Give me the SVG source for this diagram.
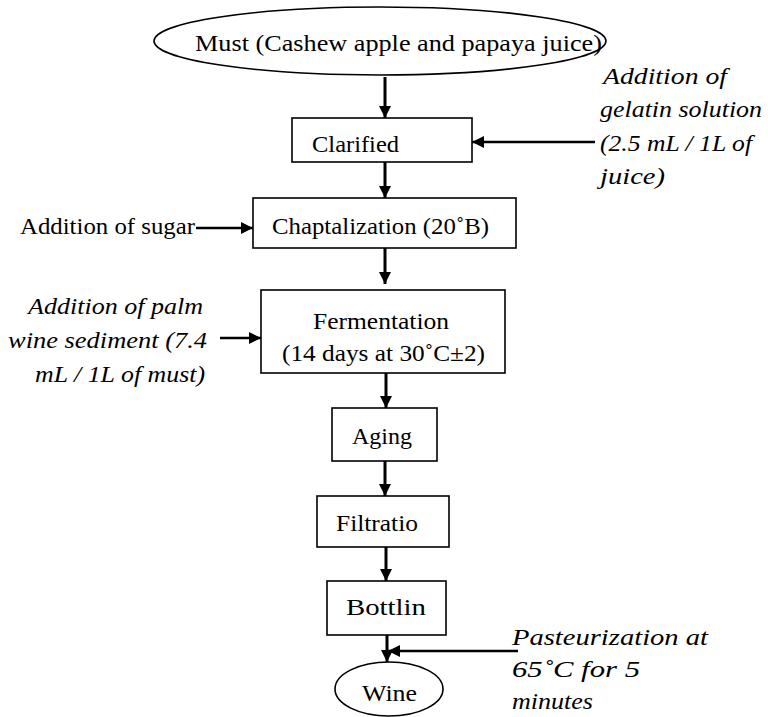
<svg xmlns="http://www.w3.org/2000/svg" width="768" height="717" viewBox="0 0 768 717">
<style>
.box{fill:#fff;stroke:#000;stroke-width:1.6}
.t{font-family:'Liberation Serif','DejaVu Serif','Times New Roman',serif;font-size:23px;fill:#000}
.i{font-style:italic}
.ln{stroke:#000;stroke-width:3;fill:none}
.lh{stroke:#000;stroke-width:2.5;fill:none}
</style>
<defs>
<marker id="ah" viewBox="0 0 12 12" refX="12" refY="6" markerWidth="12" markerHeight="12" markerUnits="userSpaceOnUse" orient="auto">
<path d="M0,0 L12,6 L0,12 Z" fill="#000"/>
</marker>
</defs>
<rect width="768" height="717" fill="#fff"/>
<g id="connectors">
<line class="ln" x1="385" y1="77" x2="385" y2="118" marker-end="url(#ah)"/>
<line class="ln" x1="385" y1="162" x2="385" y2="198" marker-end="url(#ah)"/>
<line class="ln" x1="385" y1="248" x2="385" y2="284" marker-end="url(#ah)"/>
<line class="ln" x1="386" y1="373" x2="386" y2="408" marker-end="url(#ah)"/>
<line class="ln" x1="385" y1="461" x2="385" y2="496" marker-end="url(#ah)"/>
<line class="ln" x1="386" y1="547" x2="386" y2="581" marker-end="url(#ah)"/>
<line class="ln" x1="387" y1="635" x2="387" y2="662" marker-end="url(#ah)"/>
<line class="lh" x1="595" y1="142" x2="472" y2="142" marker-end="url(#ah)"/>
<line class="lh" x1="196" y1="228" x2="253" y2="228" marker-end="url(#ah)"/>
<line class="lh" x1="220" y1="338" x2="261" y2="338" marker-end="url(#ah)"/>
<line class="lh" x1="518" y1="651" x2="388" y2="651" marker-end="url(#ah)"/>
</g>
<g id="must">
<ellipse class="box" cx="380" cy="41" rx="226" ry="34"/>
<text class="t" x="195" y="51" textLength="407" lengthAdjust="spacingAndGlyphs">Must (Cashew apple and papaya juice)</text>
</g>
<g id="clarified">
<rect class="box" x="292" y="118" width="180" height="44"/>
<text class="t" x="312" y="152" textLength="87" lengthAdjust="spacingAndGlyphs">Clarified</text>
</g>
<g id="gelatin">
<text class="t i" x="603" y="84" textLength="124" lengthAdjust="spacingAndGlyphs">Addition of</text>
<text class="t i" x="600" y="117" textLength="162" lengthAdjust="spacingAndGlyphs">gelatin solution</text>
<text class="t i" x="600" y="151" textLength="152" lengthAdjust="spacingAndGlyphs">(2.5 mL / 1L of</text>
<text class="t i" x="600" y="184" textLength="65" lengthAdjust="spacingAndGlyphs">juice)</text>
</g>
<g id="chaptalization">
<rect class="box" x="253" y="198" width="263" height="50"/>
<text class="t" x="272" y="234" textLength="217" lengthAdjust="spacingAndGlyphs">Chaptalization (20˚B)</text>
</g>
<g id="sugar">
<text class="t" x="20" y="234" textLength="175" lengthAdjust="spacingAndGlyphs">Addition of sugar</text>
</g>
<g id="fermentation">
<rect class="box" x="261" y="290" width="244" height="83"/>
<text class="t" x="313" y="329" textLength="136" lengthAdjust="spacingAndGlyphs">Fermentation</text>
<text class="t" x="282" y="361" textLength="203" lengthAdjust="spacingAndGlyphs">(14 days at 30˚C±2)</text>
</g>
<g id="palm">
<text class="t i" x="28" y="314" textLength="175" lengthAdjust="spacingAndGlyphs">Addition of palm</text>
<text class="t i" x="8" y="348" textLength="199" lengthAdjust="spacingAndGlyphs">wine sediment (7.4</text>
<text class="t i" x="35" y="382" textLength="170" lengthAdjust="spacingAndGlyphs">mL / 1L of must)</text>
</g>
<g id="aging">
<rect class="box" x="332" y="408" width="105" height="53"/>
<text class="t" x="352" y="444" textLength="60" lengthAdjust="spacingAndGlyphs">Aging</text>
</g>
<g id="filtration">
<rect class="box" x="317" y="496" width="132" height="51"/>
<text class="t" x="336" y="531" textLength="82" lengthAdjust="spacingAndGlyphs">Filtratio</text>
</g>
<g id="bottling">
<rect class="box" x="327" y="581" width="119" height="54"/>
<text class="t" x="346" y="615" textLength="80" lengthAdjust="spacingAndGlyphs">Bottlin</text>
</g>
<g id="pasteurization">
<text class="t i" x="512" y="645" textLength="196" lengthAdjust="spacingAndGlyphs">Pasteurization at</text>
<text class="t i" x="512" y="677" textLength="128" lengthAdjust="spacingAndGlyphs">65˚C for 5</text>
<text class="t i" x="512" y="709" textLength="81" lengthAdjust="spacingAndGlyphs">minutes</text>
</g>
<g id="wine">
<ellipse class="box" cx="389" cy="689" rx="54" ry="27"/>
<text class="t" x="362" y="701" textLength="55" lengthAdjust="spacingAndGlyphs">Wine</text>
</g>
</svg>
